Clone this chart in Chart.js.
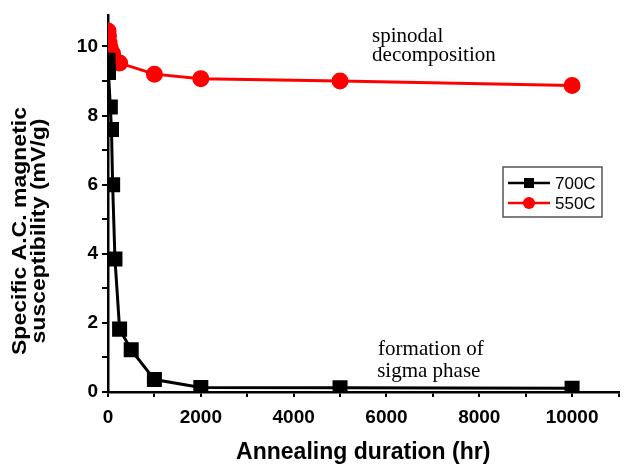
<!DOCTYPE html>
<html lang="en">
<head>
    <meta charset="UTF-8">
    <title>AC susceptibility vs annealing</title>
    <script src="https://cdn.jsdelivr.net/npm/chart.js"></script>
    <style>
        html, body { margin: 0; padding: 0; background: #fff; }
        #wrap { width: 630px; height: 466px; position: relative; }
    </style>
</head>
<body>
    <div id="wrap">
        <canvas id="susChart" width="630" height="466"></canvas>
    </div>

<script>
    // values
    var hours700 = [0, 10, 50, 75, 100, 150, 250, 500, 1000, 2000, 5000, 10000];
    var sus700 = [9.6, 9.25, 8.25, 7.6, 6.0, 3.85, 1.82, 1.22, 0.36, 0.13, 0.12, 0.11];

    var hours550 = [0, 10, 24, 48, 100, 250, 1000, 2000, 5000, 10000];
    var sus550 = [10.45, 10.3, 10.1, 9.95, 9.8, 9.52, 9.2, 9.07, 9.0, 8.87];

    var xTickLabels = [0, 2000, 4000, 6000, 8000, 10000];
    var yTickLabels = [0, 2, 4, 6, 8, 10];

    var seriesNames = ['700C', '550C'];
    var yTitle = ['Specific A.C. magnetic', 'susceptibility (mV/g)'];

    function pts(xs, ys) {
        return xs.map(function (x, i) { return { x: x, y: ys[i] }; });
    }

    var font = "'Liberation Sans', Arial, sans-serif";

    // text notes, y title, legend box
    var extras = {
        id: 'extras',
        afterDraw: function (chart) {
            var ctx = chart.ctx;
            var xs = chart.scales.x, ys = chart.scales.y;
            ctx.save();
            ctx.fillStyle = '#000';
            ctx.font = "21px 'Liberation Serif', 'Times New Roman', serif";
            ctx.textAlign = 'left';
            ctx.textBaseline = 'middle';
            ctx.fillText('spinodal', xs.getPixelForValue(5690), ys.getPixelForValue(10.29));
            ctx.fillText('decomposition', xs.getPixelForValue(5690), ys.getPixelForValue(9.74));
            ctx.fillText('formation of', xs.getPixelForValue(5820), ys.getPixelForValue(1.24));
            ctx.fillText('sigma phase', xs.getPixelForValue(5800), ys.getPixelForValue(0.58));

            // y title, a bit squeezed across like the original
            ctx.save();
            ctx.translate(30.5, 231);
            ctx.rotate(-Math.PI / 2);
            ctx.scale(1, 0.85);
            ctx.font = 'bold 23px ' + font;
            ctx.textAlign = 'center';
            ctx.fillText(yTitle[0], 0, -11.2);
            ctx.fillText(yTitle[1], 0, 11.2);
            ctx.restore();

            // legend
            var bx = 503, by = 167, bw = 99, bh = 50;
            ctx.strokeStyle = '#555';
            ctx.lineWidth = 1.5;
            ctx.strokeRect(bx, by, bw, bh);
            var colors = ['#000', '#ff0000'];
            for (var i = 0; i < seriesNames.length; i++) {
                var ly = by + 16 + i * 20;
                ctx.strokeStyle = colors[i];
                ctx.fillStyle = colors[i];
                ctx.lineWidth = 2.5;
                ctx.beginPath();
                ctx.moveTo(bx + 5, ly);
                ctx.lineTo(bx + 47, ly);
                ctx.stroke();
                if (i === 0) {
                    ctx.fillRect(bx + 21, ly - 5, 10, 10);
                } else {
                    ctx.beginPath();
                    ctx.arc(bx + 26, ly, 6, 0, Math.PI * 2);
                    ctx.fill();
                }
                ctx.fillStyle = '#000';
                ctx.font = '17px ' + font;
                ctx.textAlign = 'left';
                ctx.fillText(seriesNames[i], bx + 52, ly + 1);
            }
            ctx.restore();
        }
    };

    new Chart(document.getElementById('susChart').getContext('2d'), {
        type: 'scatter',
        data: {
            datasets: [{
                label: seriesNames[0],
                data: pts(hours700, sus700),
                showLine: true,
                borderColor: '#000',
                backgroundColor: '#000',
                borderWidth: 3,
                pointStyle: 'rect',
                pointRadius: 8.5,
                pointHoverRadius: 8.5
            }, {
                label: seriesNames[1],
                data: pts(hours550, sus550),
                showLine: true,
                borderColor: '#ff0000',
                backgroundColor: '#ff0000',
                borderWidth: 3,
                pointStyle: 'circle',
                pointRadius: 7,
                pointHoverRadius: 7
            }]
        },
        options: {
            responsive: false,
            animation: false,
            layout: { padding: { top: 10, right: 10, left: 0, bottom: 0 } },
            plugins: {
                legend: { display: false },
                tooltip: { enabled: false }
            },
            scales: {
                x: {
                    type: 'linear',
                    min: 0,
                    max: 11000,
                    border: { color: '#000', width: 2.5 },
                    grid: { drawOnChartArea: false, color: '#000', tickLength: 5, lineWidth: 2 },
                    ticks: {
                        stepSize: 1000,
                        color: '#000',
                        padding: 9,
                        maxRotation: 0,
                        autoSkip: false,
                        font: { family: font, size: 19, weight: 'bold' },
                        callback: function (v) { return xTickLabels.indexOf(v) >= 0 ? String(v) : ''; }
                    },
                    title: {
                        display: true,
                        text: 'Annealing duration (hr)',
                        color: '#000',
                        font: { family: font, size: 23, weight: 'bold' },
                        padding: { top: 0, bottom: 0 }
                    },
                    afterFit: function (s) { s.height = 74; }
                },
                y: {
                    min: 0,
                    max: 10.9,
                    border: { color: '#000', width: 2.5 },
                    grid: { drawOnChartArea: false, color: '#000', tickLength: 6, lineWidth: 2 },
                    afterBuildTicks: function (s) {
                        s.ticks = s.ticks.filter(function (t) { return Number.isInteger(t.value); });
                    },
                    ticks: {
                        stepSize: 1,
                        color: '#000',
                        padding: 4,
                        autoSkip: false,
                        font: { family: font, size: 19, weight: 'bold' },
                        callback: function (v) { return yTickLabels.indexOf(v) >= 0 ? String(v) : ''; }
                    },
                    title: { display: false },
                    afterFit: function (s) { s.width = 108; }
                }
            }
        },
        plugins: [extras]
    });
</script>
</body>
</html>
